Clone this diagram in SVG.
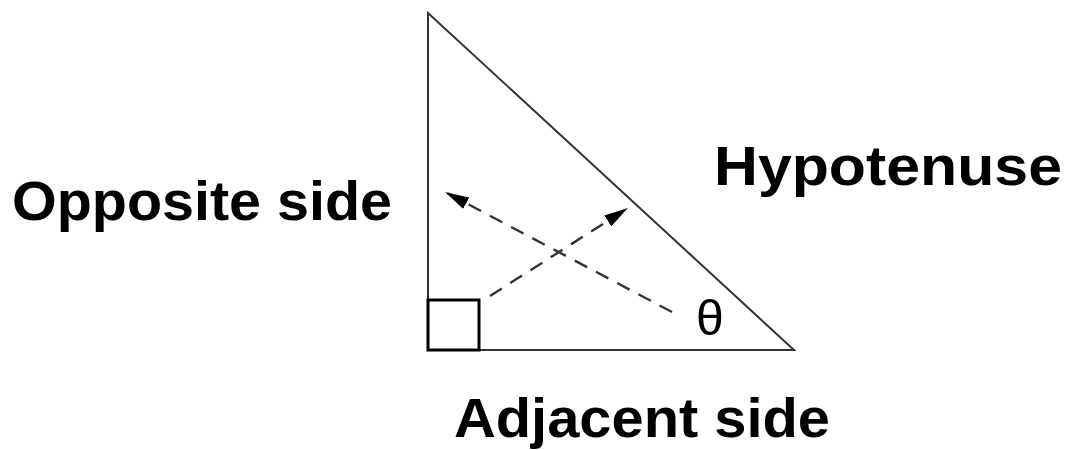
<svg xmlns="http://www.w3.org/2000/svg" width="1068" height="450" viewBox="0 0 1068 450">
<style>
.lbl{font-family:"Liberation Sans",Arial,sans-serif;font-weight:bold;font-size:55px;fill:#000}
.side{stroke:#333;stroke-width:2;fill:none}
.dash{stroke:#333;stroke-width:2.4;stroke-dasharray:14 10;fill:none}
</style>
<defs>
<marker id="ah2" viewBox="0 0 24 13" refX="24" refY="6.5" markerWidth="24" markerHeight="13" markerUnits="userSpaceOnUse" orient="auto">
<path d="M0,0 L20,5.5 L24,6.5 L20,7.5 L0,13 z" fill="#000"/>
</marker>
</defs>
<rect width="1068" height="450" fill="#fff"/>
<g id="triangle">
<path class="side" d="M428,13 L428,350 L794,350 Z"/>
<rect x="428" y="300" width="51" height="50" fill="none" stroke="#000" stroke-width="3"/>
</g>
<g id="connectors">
<line class="dash" x1="672" y1="312" x2="445" y2="192" marker-end="url(#ah2)"/>
<line class="dash" x1="490" y1="296" x2="628" y2="208" marker-end="url(#ah2)"/>
</g>
<g id="label-opposite"><text class="lbl" x="12" y="220" textLength="380" lengthAdjust="spacingAndGlyphs">Opposite side</text></g>
<g id="label-hypotenuse"><text class="lbl" x="714" y="185" textLength="348" lengthAdjust="spacingAndGlyphs">Hypotenuse</text></g>
<g id="label-adjacent"><text class="lbl" x="454" y="437" textLength="376" lengthAdjust="spacingAndGlyphs">Adjacent side</text></g>
<g id="label-theta"><text x="696" y="335" font-family="Liberation Sans,Arial,sans-serif" font-size="50" fill="#000">θ</text></g>
</svg>
